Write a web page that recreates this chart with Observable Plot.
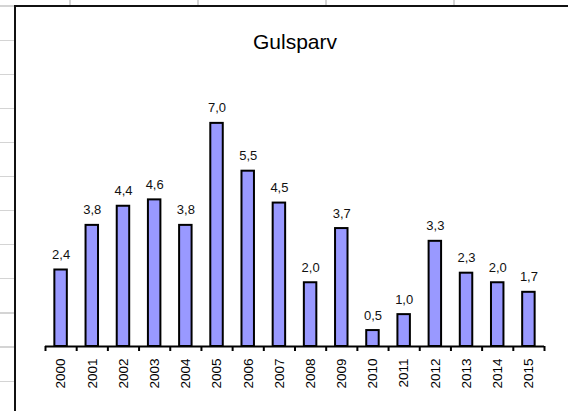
<!DOCTYPE html>
<html>
<head>
<meta charset="utf-8">
<script src="https://cdn.jsdelivr.net/npm/d3@7"></script>
<script src="https://cdn.jsdelivr.net/npm/@observablehq/plot@0.6"></script>
<style>
  html, body { margin: 0; padding: 0; background: #fff; }
  #page {
    position: relative; width: 568px; height: 411px; overflow: hidden;
    font-family: "Liberation Sans", Arial, sans-serif;
    background-color: #fff;
    background-image:
      repeating-linear-gradient(to right, transparent 0px, transparent 69.5px, #d4d4d4 69.5px, #d4d4d4 70.7px, transparent 70.7px, transparent 128px),
      repeating-linear-gradient(to bottom, transparent 0px, transparent 5.5px, #d4d4d4 5.5px, #d4d4d4 6.7px, transparent 6.7px, transparent 34.1px);
  }
  #frame {
    position: absolute; left: 14px; top: 5px; right: -20px; bottom: -20px;
    border: 2px solid #111; background: #fff;
  }
  #chart { position: absolute; left: 0; top: 0; }
</style>
</head>
<body>
<div id="page">
  <div id="frame"></div>
  <div id="chart"></div>
</div>
<script>
const title = "Gulsparv";
const years = [2000, 2001, 2002, 2003, 2004, 2005, 2006, 2007, 2008, 2009, 2010, 2011, 2012, 2013, 2014, 2015];
const values = [2.4, 3.8, 4.4, 4.6, 3.8, 7.0, 5.5, 4.5, 2.0, 3.7, 0.5, 1.0, 3.3, 2.3, 2.0, 1.7];

const data = years.map((year, i) => ({year, value: values[i]}));
const bounds = years.map(y => y - 0.5).concat([years[years.length - 1] + 0.5]);
const fmt = d3.formatLocale({decimal: ",", thousands: " ", grouping: [3], currency: ["", ""]}).format(".1f");
const half = 0.2;

const chart = Plot.plot({
  width: 568,
  height: 411,
  marginLeft: 45,
  marginRight: 24,
  marginTop: 91,
  marginBottom: 65,
  style: {background: "transparent", fontFamily: "'Liberation Sans', Arial, sans-serif", color: "black"},
  x: {domain: [bounds[0], bounds[bounds.length - 1]], axis: null, label: null},
  y: {domain: [0, 8], axis: null, label: null},
  marks: [
    Plot.rectY(data, {x1: d => d.year - half, x2: d => d.year + half, y: "value", fill: "#9999ff", stroke: "black", strokeWidth: 2}),
    Plot.ruleY([0], {stroke: "black", strokeWidth: 2}),
    Plot.axisX({ticks: bounds, tickSize: 5, tickFormat: () => "", label: null, stroke: "black", strokeWidth: 2}),
    Plot.axisX({ticks: years, tickSize: 0, tickPadding: 12, tickRotate: -90, tickFormat: d => String(d), label: null, fontSize: 13.5, fill: "black"}),
    Plot.text(data, {x: "year", y: "value", text: d => fmt(d.value), lineAnchor: "bottom", dy: -11, fontSize: 13, fill: "#111"}),
    Plot.text([title], {frameAnchor: "top", lineAnchor: "bottom", dy: -43, fontSize: 21, fill: "black"})
  ]
});
document.getElementById("chart").appendChild(chart);
</script>
</body>
</html>
